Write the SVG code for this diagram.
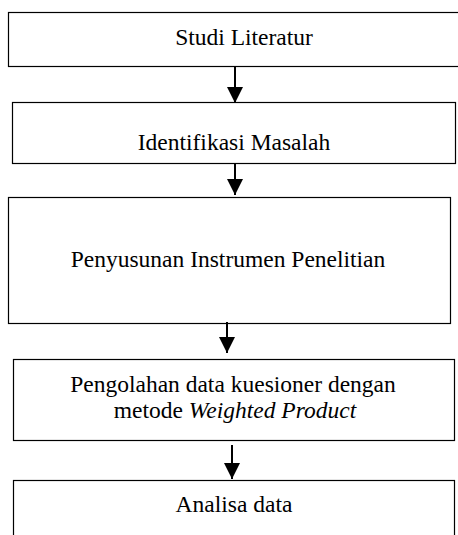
<svg xmlns="http://www.w3.org/2000/svg" width="458" height="535" viewBox="0 0 458 535">
<style>
.box{fill:#fff;stroke:#000;stroke-width:1.2}
.t{font-family:"Liberation Serif","Times New Roman",serif;font-size:23.5px;fill:#000;text-anchor:middle}
.c{stroke:#000;stroke-width:2;fill:none}
</style>
<defs>
<marker id="ah" markerUnits="userSpaceOnUse" markerWidth="16" markerHeight="16" refX="16" refY="8" orient="auto" viewBox="0 0 16 16">
<path d="M0,0 L16,8 L0,16 Z" fill="#000"/>
</marker>
</defs>
<rect width="458" height="535" fill="#fff"/>
<g id="n1"><rect class="box" x="8.5" y="12.5" width="452" height="54"/><text class="t" x="244" y="45">Studi Literatur</text></g>
<g id="n2"><rect class="box" x="12.5" y="102.5" width="443" height="61"/><text class="t" x="234" y="150">Identifikasi Masalah</text></g>
<g id="n3"><rect class="box" x="8.5" y="197.5" width="442" height="126"/><text class="t" x="228" y="267">Penyusunan Instrumen Penelitian</text></g>
<g id="n4"><rect class="box" x="13.5" y="359.5" width="441" height="81"/><text class="t" x="233" y="392">Pengolahan data kuesioner dengan</text><text class="t" x="235" y="418">metode <tspan font-style="italic">Weighted Product</tspan></text></g>
<g id="n5"><rect class="box" x="13.5" y="480.5" width="441" height="70"/><text class="t" x="234" y="512">Analisa data</text></g>
<g id="connectors">
<line class="c" x1="235" y1="67" x2="235" y2="103" marker-end="url(#ah)"/>
<line class="c" x1="235" y1="164" x2="235" y2="195" marker-end="url(#ah)"/>
<line class="c" x1="227" y1="322" x2="227" y2="353" marker-end="url(#ah)"/>
<line class="c" x1="232" y1="445" x2="232" y2="479" marker-end="url(#ah)"/>
</g>
</svg>
